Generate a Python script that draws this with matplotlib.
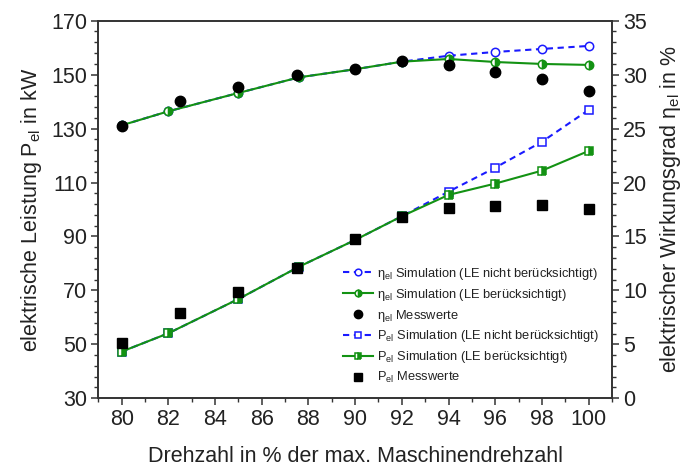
import matplotlib
matplotlib.use("Agg")
import matplotlib.pyplot as plt
from matplotlib.ticker import MultipleLocator, FixedLocator

plt.rcParams['font.family'] = ['Liberation Sans', 'DejaVu Sans']
plt.rcParams['mathtext.fontset'] = 'custom'
plt.rcParams['mathtext.rm'] = 'Liberation Sans'
plt.rcParams['mathtext.it'] = 'Liberation Sans:italic'

# speed in % of max. machine speed
n_sim = [80, 82, 85, 87.6, 90, 92, 94, 96, 98, 100]
n_meas = [80, 82.5, 85, 87.5, 90, 92, 94, 96, 98, 100]

# electrical power in kW
p_sim_le = [47.3, 54.1, 66.8, 78.8, 88.7, 97.5, 105.4, 109.6, 114.4, 121.7]
p_sim_no_le = [47.3, 54.1, 66.8, 78.8, 88.7, 97.5, 106.6, 115.5, 125.1, 136.9]
p_meas = [50.6, 61.6, 69.3, 78.3, 88.9, 97.3, 100.4, 101.4, 101.7, 100.1]

# electrical efficiency in %
eta_sim_le = [25.3, 26.6, 28.3, 29.75, 30.5, 31.2, 31.45, 31.17, 30.99, 30.9]
eta_sim_no_le = [25.3, 26.6, 28.3, 29.75, 30.5, 31.2, 31.75, 32.1, 32.38, 32.66]
eta_meas = [25.2, 27.55, 28.85, 29.95, 30.5, 31.25, 30.85, 30.25, 29.55, 28.5]

# axis ticks
p_ticks = [30, 50, 70, 90, 110, 130, 150, 170]
p_minor = list(range(30, 171, 4))
n_ticks = [80, 82, 84, 86, 88, 90, 92, 94, 96, 98, 100]

BLUE = '#1a1aff'
GREEN = '#139213'
AXC = '#333333'
TXT = '#222222'

fig = plt.figure(figsize=(6.86, 4.70), dpi=100)
ax = fig.add_axes([0.1433, 0.1526, 0.7488, 0.8034])
ax2 = ax.twinx()

# power curves (left axis)
l_p_no = ax.plot(n_sim, p_sim_no_le, color=BLUE, ls=(0, (3, 2.2)), lw=1.5,
                 marker='s', ms=5.5, mfc='white', mec=BLUE, mew=1.1, zorder=3)[0]
l_p_le = ax.plot(n_sim, p_sim_le, color=GREEN, ls='-', lw=1.5,
                 marker='s', ms=5.5, fillstyle='right', mfc=GREEN, mfcalt='white',
                 mec=GREEN, mew=1.1, zorder=4)[0]
l_p_m = ax.plot(n_meas, p_meas, ls='none', marker='s', ms=6.5, color='black', zorder=5)[0]

# efficiency curves (right axis)
l_e_no = ax2.plot(n_sim, eta_sim_no_le, color=BLUE, ls=(0, (3, 2.2)), lw=1.5,
                  marker='o', ms=6, mfc='white', mec=BLUE, mew=1.1, zorder=3)[0]
l_e_le = ax2.plot(n_sim, eta_sim_le, color=GREEN, ls='-', lw=1.5,
                  marker='o', ms=6, fillstyle='right', mfc=GREEN, mfcalt='white',
                  mec=GREEN, mew=1.1, zorder=4)[0]
l_e_m = ax2.plot(n_meas, eta_meas, ls='none', marker='o', ms=7.5, color='black', zorder=5)[0]

ax.set_xlim(79, 101)
ax.set_ylim(30, 170)
ax2.set_ylim(0, 35)

ax.xaxis.set_major_locator(FixedLocator(n_ticks))
ax.xaxis.set_minor_locator(MultipleLocator(1))
ax.yaxis.set_major_locator(FixedLocator(p_ticks))
ax.yaxis.set_minor_locator(FixedLocator(p_minor))
ax2.yaxis.set_major_locator(MultipleLocator(5))
ax2.yaxis.set_minor_locator(MultipleLocator(1))

for a in (ax, ax2):
    for s in a.spines.values():
        s.set_color(AXC)
        s.set_linewidth(1.2)
    a.tick_params(which='major', direction='out', length=5, width=1.1, color=AXC,
                  labelsize=15.5, labelcolor=TXT, pad=3)
    a.tick_params(which='minor', direction='out', length=3, width=1.0, color=AXC)
ax.tick_params(axis='x', which='both', top=False)

ax.set_xlabel('Drehzahl in % der max. Maschinendrehzahl', fontsize=15.5,
              color=TXT, labelpad=11)
ax.set_ylabel('elektrische Leistung P$_{\\mathrm{el}}$ in kW', fontsize=15.5,
              color=TXT, labelpad=5)
ax2.set_ylabel('elektrischer Wirkungsgrad η$_{\\mathrm{el}}$ in %', fontsize=15.5,
               color=TXT, labelpad=8)

handles = [l_e_no, l_e_le, l_e_m, l_p_no, l_p_le, l_p_m]
labels = [
    'η$_{\\mathrm{el}}$ Simulation (LE nicht berücksichtigt)',
    'η$_{\\mathrm{el}}$ Simulation (LE berücksichtigt)',
    'η$_{\\mathrm{el}}$ Messwerte',
    'P$_{\\mathrm{el}}$ Simulation (LE nicht berücksichtigt)',
    'P$_{\\mathrm{el}}$ Simulation (LE berücksichtigt)',
    'P$_{\\mathrm{el}}$ Messwerte',
]
leg = ax2.legend(handles, labels, loc='lower right', bbox_to_anchor=(1.0, 0.0),
                 frameon=False, fontsize=9.3, handlelength=2.3, handletextpad=0.3,
                 labelspacing=0.38, markerscale=0.8, borderaxespad=0.6)
for t in leg.get_texts():
    t.set_color(TXT)

fig.savefig('out.png', dpi=100)
